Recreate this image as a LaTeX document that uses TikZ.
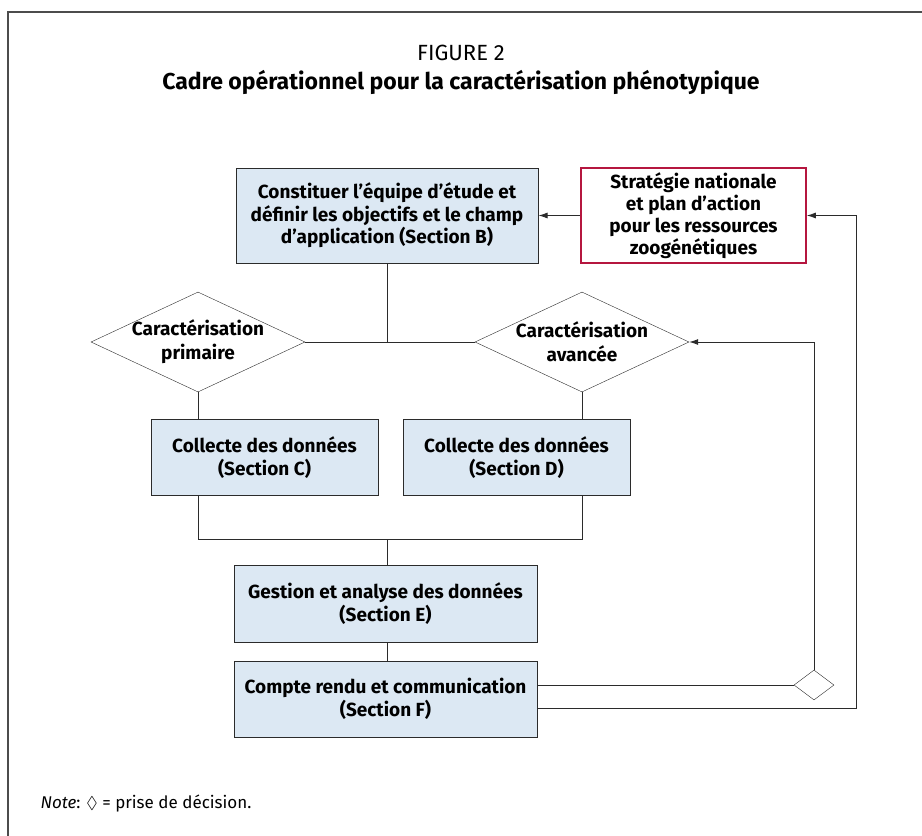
\documentclass[tikz,border=0pt]{standalone}
\usepackage{fontspec}
\usepackage{amssymb}
\setmainfont{Fira Sans}
\usetikzlibrary{shapes.geometric, arrows.meta, calc, positioning}

\definecolor{boxblue}{HTML}{DCE8F3}
\definecolor{planred}{HTML}{B5163F}
\definecolor{linegray}{HTML}{2B2B2B}

\tikzset{
  stage/.style={draw=linegray, line width=1pt, fill=boxblue, align=center, font=\bfseries\fontsize{19}{22.5}\selectfont, inner sep=0pt},
  plan/.style={draw=planred, line width=1.6pt, fill=white, align=center, font=\bfseries\fontsize{19}{22}\selectfont, inner sep=0pt},
  decision/.style={draw=linegray, diamond, inner sep=0pt},
  link/.style={draw=linegray, line width=0.9pt}
}

\begin{document}
\begin{tikzpicture}[x=1pt, y=-1pt, >={Latex[length=9pt,width=6pt]}]
            \useasboundingbox (0,0) rectangle (922,836);

            % frame
            \draw[line width=2pt, color=black!70] (922,12) -- (8,12) -- (8,836);

            % title
            \node (fig) at (461,53) {\fontsize{22}{24}\selectfont FIGURE 2};
            \node (title) at (461,82) {\bfseries\fontsize{23}{24}\selectfont Cadre opérationnel pour la caractérisation phénotypique};

            % boxes
            \node[stage, minimum width=302pt, minimum height=95pt] (equipe) at (387,215.5)
                {Constituer l’équipe d’étude et\\définir les objectifs et le champ\\d'application (Section B)};
            \node[plan, minimum width=225pt, minimum height=95pt] (strat) at (693.5,215.5)
                {Stratégie nationale\\et plan d’action\\pour les ressources\\zoogénétiques};

            % decisions: primary and advanced
            \node[decision, minimum width=214pt, minimum height=100pt] (prim) at (198,342) {};
            \node[align=center, font=\bfseries\fontsize{19}{24}\selectfont] (primtxt) at (prim) {Caractérisation\\primaire};
            \node[decision, minimum width=214pt, minimum height=100pt] (avan) at (582,342) {};
            \node[align=center, font=\bfseries\fontsize{19}{24}\selectfont] (avantxt) at (avan) {Caractérisation\\avancée};

            \node[stage, minimum width=227pt, minimum height=76pt] (collC) at (264.5,457.5)
                {Collecte des données\\(Section C)};
            \node[stage, minimum width=227pt, minimum height=76pt] (collD) at (516.5,457.5)
                {Collecte des données\\(Section D)};

            \node[stage, minimum width=303pt, minimum height=77pt] (gestion) at (385.5,603.5)
                {Gestion et analyse des données\\(Section E)};
            \node[stage, minimum width=303pt, minimum height=76pt] (compte) at (385.5,699)
                {Compte rendu et communication\\(Section F)};

            % small decision and loop corner
            \node[decision, minimum width=40pt, minimum height=30pt] (choix) at (814,685) {};
            \coordinate (retour) at (856,708);
            \coordinate (jonction) at (387,539);

            % connectors
            \draw[link, ->] (strat.west) -- (equipe.east);
            \draw[link] (prim.east) -- (avan.west);
            \draw[link] (equipe.south -| jonction) -- (jonction |- prim.east);
            \draw[link] (prim.south) -- (prim.south |- collC.north);
            \draw[link] (avan.south) -- (avan.south |- collD.north);
            \draw[link] (prim.south |- collC.south) -- (prim.south |- jonction) -- (avan.south |- jonction) -- (avan.south |- collD.south);
            \draw[link] (jonction) -- (jonction |- gestion.north);
            \draw[link] (gestion.south -| jonction) -- (compte.north -| jonction);
            \draw[link] (compte.east |- choix.west) -- (choix.west);
            \draw[link, ->] (choix.north) |- (avan.east);
            \draw[link, ->] (compte.east |- retour) -- (retour) |- (strat.east);

            % note
            \node[anchor=west] (note) at (37,803) {\fontsize{17}{20}\selectfont\textit{Note}: $\Diamond$ = prise de décision.};
        \end{tikzpicture}
\end{document}
